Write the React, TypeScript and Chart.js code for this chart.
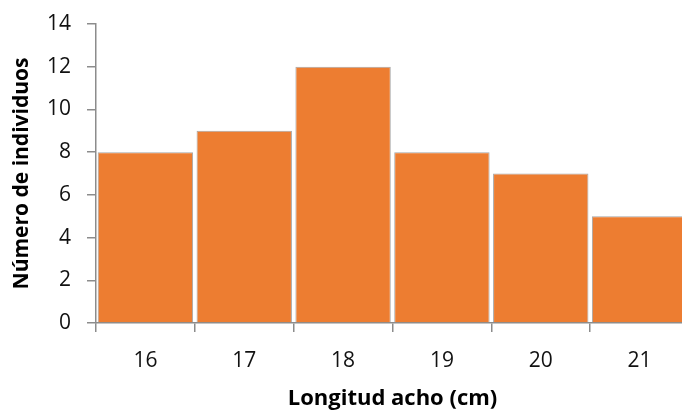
import React, { useEffect, useRef } from "react";
import { Chart, registerables } from "chart.js";

Chart.register(...registerables);

const categories = ["16", "17", "18", "19", "20", "21"];
const counts = [8, 9, 12, 8, 7, 5];
const yTicks = [0, 2, 4, 6, 8, 10, 12, 14];
const xTitle = "Longitud acho (cm)";
const yTitle = "Número de individuos";

export default function App() {
  const ref = useRef<HTMLCanvasElement | null>(null);
  useEffect(() => {
    if (!ref.current) return;
    const font = "'Open Sans', Lato, sans-serif";
    const chart = new Chart(ref.current, {
      type: "bar",
      data: {
        labels: categories,
        datasets: [
          {
            data: counts,
            backgroundColor: "#ED7D31",
            borderColor: "#A6A6A6",
            borderWidth: 1,
            categoryPercentage: 1,
            barPercentage: 0.965,
          },
        ],
      },
      options: {
        responsive: false,
        animation: false,
        devicePixelRatio: 1,
        layout: { padding: { top: 24, right: 3, left: 0, bottom: 0 } },
        plugins: { legend: { display: false }, tooltip: { enabled: false } },
        scales: {
          x: {
            grid: {
              offset: true,
              drawOnChartArea: false,
              color: "#8C8C8C",
              lineWidth: 1.5,
              tickLength: 9,
            },
            border: { color: "#8C8C8C", width: 1.5 },
            ticks: { color: "#111", font: { family: font, size: 21 }, padding: 16 },
            title: {
              display: true,
              text: xTitle,
              color: "#000",
              font: { family: font, size: 22, weight: "bold" },
              padding: { top: 2, bottom: 0 },
            },
            afterFit: (s: any) => {
              s.height = 89;
              s.paddingLeft = 0;
              s.paddingRight = 0;
            },
          },
          y: {
            min: 0,
            max: 14,
            afterBuildTicks: (s: any) => {
              s.ticks = yTicks.map((v) => ({ value: v }));
            },
            grid: {
              drawOnChartArea: false,
              color: "#8C8C8C",
              lineWidth: 1.5,
              tickLength: 9,
            },
            border: { color: "#8C8C8C", width: 1.5 },
            ticks: { color: "#111", font: { family: font, size: 21 }, padding: 16 },
            title: {
              display: true,
              text: yTitle,
              color: "#000",
              font: { family: font, size: 21, weight: "bold" },
              padding: { top: 9, bottom: 0 },
            },
            afterFit: (s: any) => {
              s.width = 96;
              s.paddingTop = 0;
              s.paddingBottom = 0;
            },
          },
        },
      },
    });
    return () => chart.destroy();
  }, []);
  return (
    <div
      style={{
        position: "fixed",
        left: 0,
        top: 0,
        width: 682,
        height: 412,
        overflow: "hidden",
        background: "#fff",
      }}
    >
      <canvas ref={ref} width={692} height={412} style={{ display: "block" }} />
    </div>
  );
}
